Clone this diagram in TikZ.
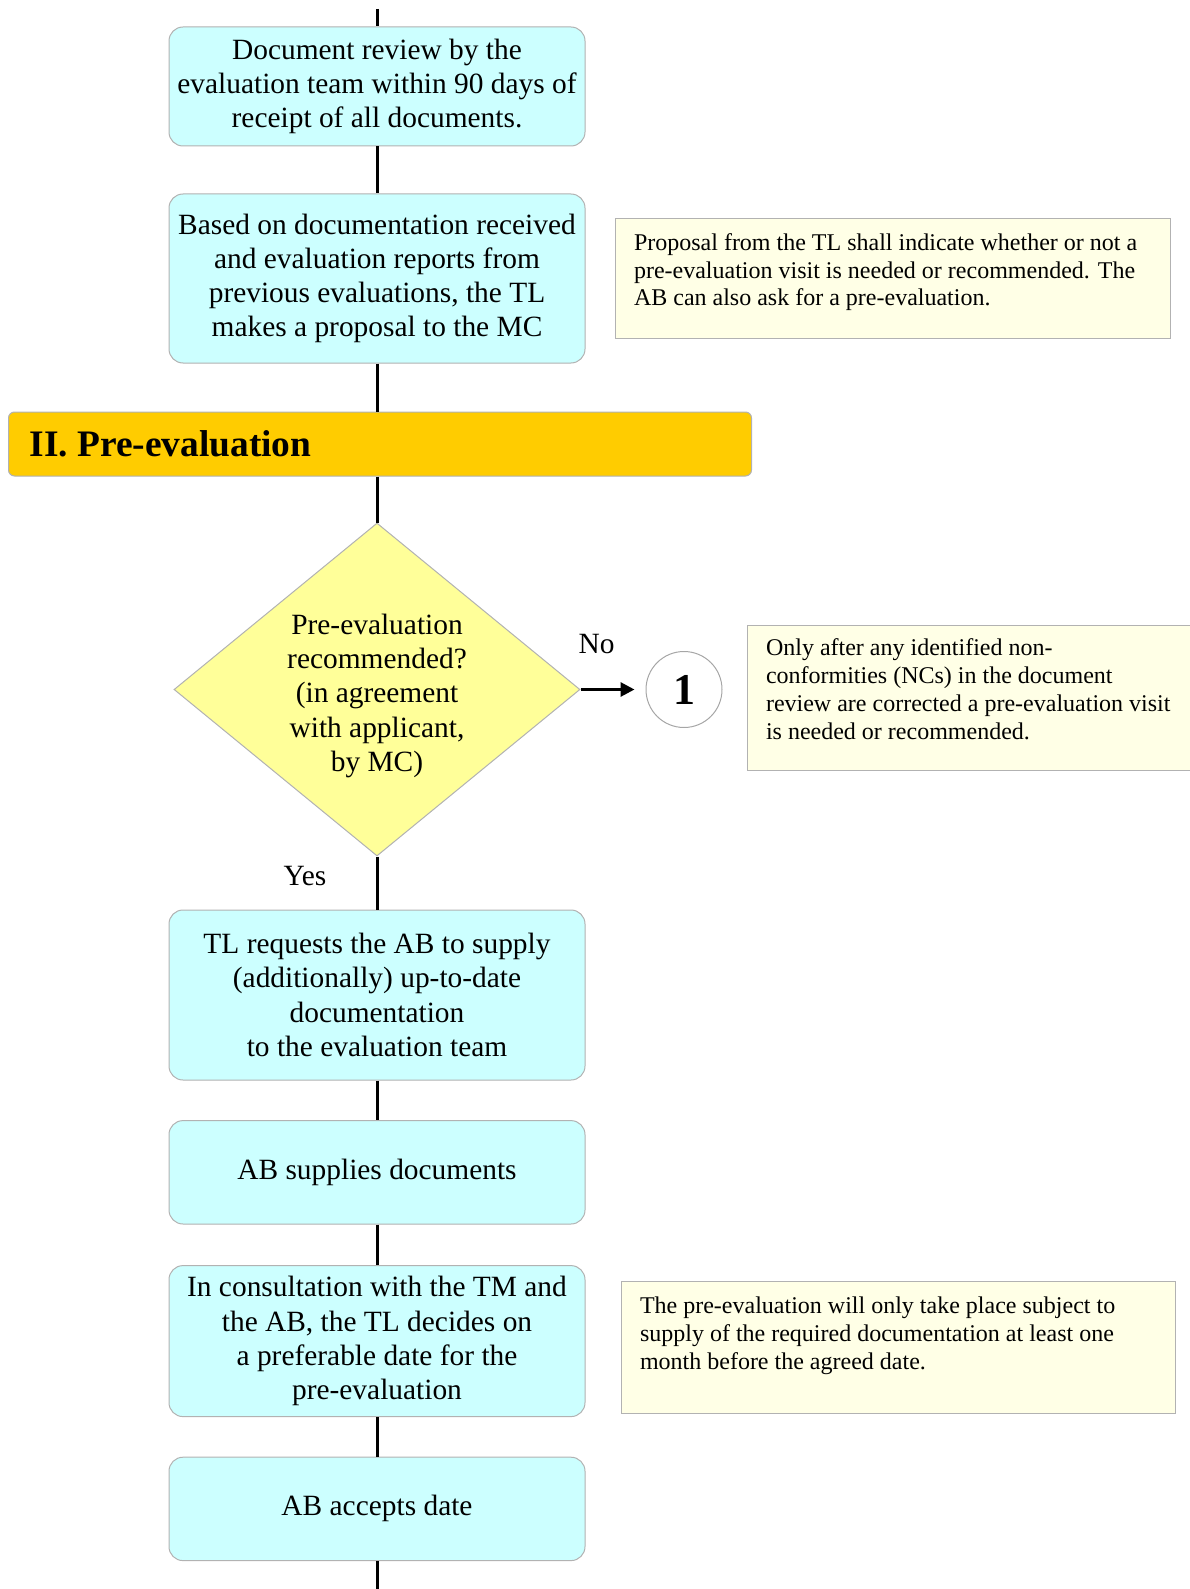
\documentclass[tikz,border=0pt]{standalone}
\usepackage{fontspec}
\setmainfont{Liberation Serif}
\usetikzlibrary{arrows.meta,positioning,shapes.geometric}

\definecolor{stepfill}{RGB}{204,255,255}
\definecolor{notefill}{RGB}{255,255,230}
\definecolor{askfill}{RGB}{255,255,153}
\definecolor{phasefill}{RGB}{255,204,0}

\tikzset{
  plainspace/.style={execute at begin node={\spaceskip=0pt\xspaceskip=0pt\relax}},
  stepbox/.style={shape=rectangle, rounded corners=7pt, draw=gray!60, line width=0.5pt,
    fill=stepfill, minimum width=208pt, align=center, inner sep=3pt,
    font=\fontsize{14.7}{17.1}\selectfont},
  notebox/.style={shape=rectangle, draw=gray!60, line width=0.5pt, fill=notefill,
    align=left, inner xsep=9.5pt, inner ysep=6pt, anchor=west, plainspace,
    font=\fontsize{12}{13.9}\selectfont},
  link/.style={line width=1.5pt, black},
}

\begin{document}
\begin{tikzpicture}[x=0.5pt, y=-0.5pt]
      \useasboundingbox (0,0) rectangle (1189,1589);

      \coordinate (top) at (377,9);
      \coordinate (bottom) at (377,1589);

      \node[stepbox, minimum height=59.5pt] (review) at (377,86.5)
           {Document review by the\\ evaluation team within 90 days of\\ receipt of all documents.};
      \node[stepbox, minimum height=84.5pt] (proposal)
           [below = 23.5pt of review]
           {Based on documentation received\\ and evaluation reports from\\ previous evaluations, the TL\\ makes a proposal to the MC};
      \node[shape=rectangle, rounded corners=3pt, draw=gray!60, line width=0.5pt, fill=phasefill,
            minimum width=371.5pt, minimum height=32pt, text width=350.5pt, align=left,
            inner xsep=10.5pt, plainspace, font=\fontsize{18.7}{22}\selectfont\bfseries] (phase)
           [below = 24pt of proposal, xshift=1.5pt] {II. Pre-evaluation};
      \node[shape=diamond, aspect=1.22, draw=gray!60, line width=0.5pt, fill=askfill, inner sep=0pt,
            minimum width=203pt, minimum height=166.5pt, align=center,
            font=\fontsize{14.7}{17.1}\selectfont] (ask)
           [below = 23pt of phase, xshift=-1.5pt]
           {\rule{0pt}{16.5pt}Pre-evaluation\\ recommended?\\ (in agreement\\ with applicant,\\ by MC)};
      \node[shape=circle, draw=gray!70, line width=0.5pt, minimum size=38pt, inner sep=0pt,
            font=\fontsize{22}{24}\selectfont\bfseries] (one)
           [right = 32.5pt of ask] {1};
      \node[stepbox, minimum height=85pt] (request)
           [below = 26.5pt of ask]
           {TL requests the AB to supply\\ (additionally) up-to-date\\ documentation\\ to the evaluation team};
      \node[stepbox, minimum height=51.7pt] (supply)
           [below = 19.8pt of request] {AB supplies documents};
      \node[stepbox, minimum height=75.5pt] (consult)
           [below = 20.3pt of supply]
           {In consultation with the TM and\\ the AB, the TL decides on\\ a preferable date for the\\ pre-evaluation};
      \node[stepbox, minimum height=51.7pt] (accept)
           [below = 19.8pt of consult] {AB accepts date};

      % side notes
      \node[notebox, text width=258.5pt, minimum height=59.8pt] (note1) [right = 14.5pt of proposal]
           {Proposal from the TL shall indicate whether or not a\\ pre-evaluation visit is needed or recommended. The\\ AB can also ask for a pre-evaluation.\\[-5pt] \mbox{}};
      \node[notebox, text width=212pt, minimum height=72.5pt] (note2) [right = 12pt of one, yshift=-4.3pt]
           {Only after any identified non-\\ conformities (NCs) in the document\\ review are corrected a pre-evaluation visit\\ is needed or recommended.\\[-5pt] \mbox{}};
      \node[notebox, text width=258pt, minimum height=66pt] (note3) [right = 17.5pt of consult, yshift=-3pt]
           {The pre-evaluation will only take place subject to\\ supply of the required documentation at least one\\ month before the agreed date.\\ \mbox{}};

      \node[font=\fontsize{14.7}{17.1}\selectfont] (no) at ([shift={(16,-45)}]ask.east) {No};
      \node[font=\fontsize{14.7}{17.1}\selectfont] (yes) at ([shift={(-72,20)}]ask.south) {Yes};

      \path [link] (top) edge (review);
      \path [link] (review) edge (proposal);
      \path [link] (proposal.south) edge (proposal.south |- phase.north);
      \path [link] (phase.south -| ask.north) edge (ask.north);
      \path [link, -{Triangle[length=7pt,width=7pt]}, shorten >=5.5pt] (ask.east) edge (one.west);
      \path [link] (ask.south) edge (request.north);
      \path [link] (request) edge (supply);
      \path [link] (supply) edge (consult);
      \path [link] (consult) edge (accept);
      \path [link] (accept.south) edge (bottom);
\end{tikzpicture}
\end{document}
